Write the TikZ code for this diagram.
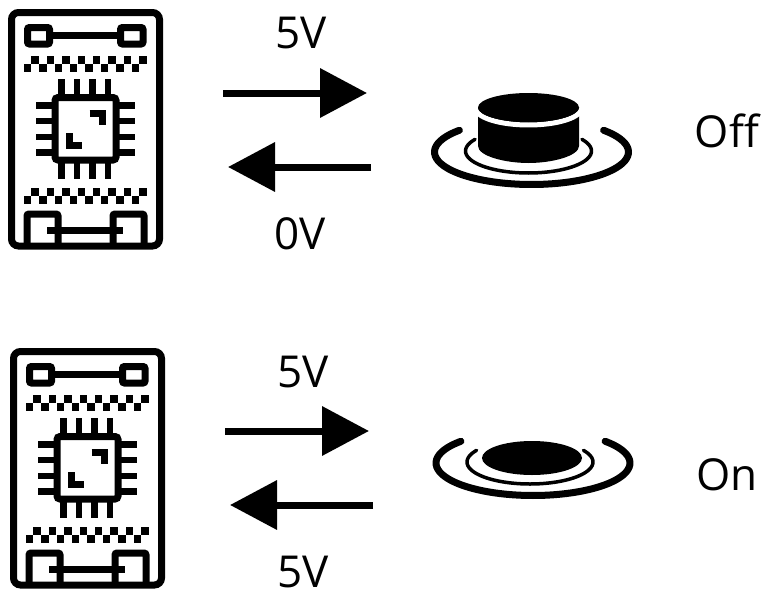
\documentclass[tikz,border=0pt]{standalone}
\usepackage{fontspec}
\setmainfont{Open Sans}
\usetikzlibrary{arrows.meta}
\tikzset{
  signal/.style={line width=7pt, -{Triangle[length=47pt,width=48pt]}},
  label/.style={font=\fontsize{44}{48}\selectfont, inner sep=0pt},
  trace/.style={line width=7pt},
  pin/.style={line width=6.8pt},
  pad/.style={fill=black},
  ringout/.style={line width=7pt, line cap=round},
  ringin/.style={line width=3.5pt, line cap=round}
}
\tikzset{
  board/.pic={
    % Outline
    \draw[trace, rounded corners=7pt] (11.5,12.5) rectangle (159.5,246);
    % Top connector
    \draw[trace, rounded corners=2pt] (27.5,27.5) rectangle (49.5,44);
    \draw[trace, rounded corners=2pt] (120.5,27.5) rectangle (143,44);
    \draw[trace] (50,35.5) -- (121,35.5);
    % Zigzag rows
    \foreach \i in {0,...,7} {
      \fill[pad] ({31.4+15.4*\i},55.5) rectangle ++(7.4,8);
      \fill[pad] ({23.7+15.4*\i},63.5) rectangle ++(7.4,8);
      \fill[pad] ({31.4+15.4*\i},187.5) rectangle ++(7.4,8);
      \fill[pad] ({23.7+15.4*\i},195.5) rectangle ++(7.4,8);
    }
    % Chip
    \draw[trace, rounded corners=3pt] (55,97.5) rectangle (116,160);
    \foreach \p in {61.5,77,92.5,108} {
      \draw[pin] (\p,79) -- (\p,95);
      \draw[pin] (\p,163) -- (\p,179);
    }
    \foreach \p in {105.5,121,137,152.5} {
      \draw[pin] (36,\p) -- (53,\p);
      \draw[pin] (118,\p) -- (135,\p);
    }
    \draw[trace] (89.5,113) -- (102,113) -- (102,125);
    \draw[trace] (69,133) -- (69,145) -- (81.5,145);
    % Bottom connector
    \draw[trace, rounded corners=2pt] (27,244) -- (27,214) -- (58,214) -- (58,244);
    \draw[trace, rounded corners=2pt] (113,244) -- (113,214) -- (144,214) -- (144,244);
    \draw[trace] (47,230) -- (123,230);
  },
  rings/.pic={
    \draw[ringout, domain=-42:222, samples=60, smooth] %
      plot ({97*cos(\x)}, {32.5*sin(\x)});
    \draw[ringin, domain=-32:212, samples=60, smooth] %
      plot ({-3*1+63*cos(\x)}, {-1+22*sin(\x)});
  }
}
\begin{document}
\begin{tikzpicture}[x=1pt, y=-1pt]
  \useasboundingbox (0,0) rectangle (761,592);

  % Off state
  \pic at (0,0) {board};
  \coordinate (outa) at (223,93);
  \coordinate (outb) at (367,93);
  \coordinate (backa) at (371,167);
  \coordinate (backb) at (228,167);
  \draw[signal] (outa) -- (outb);
  \draw[signal] (backa) -- (backb);
  \node[label] (sendoff) at (301,33.5) {5V};
  \node[label] (readoff) at (300,233.5) {0V};
  \pic at (531.5,152) {rings};
  % Button body
  \fill (478,107) -- (478,146) .. controls (478,156) and (505,163) .. (528.5,163) %
    .. controls (552,163) and (579,156) .. (579,146) -- (579,107) -- cycle;
  \draw[white, line width=5pt, domain=0:180, samples=40, smooth] %
    plot ({528.5+53*cos(\x)}, {108+17*sin(\x)});
  \fill (528.5,107.5) ellipse [x radius=50.5pt, y radius=14.5pt];
  \node[label] (stateoff) at (727,131) {Off};

  % On state
  \pic at (2,339) {board};
  \coordinate (ona) at (225,431);
  \coordinate (onb) at (369,431);
  \coordinate (retura) at (373,505);
  \coordinate (returb) at (230,505);
  \draw[signal] (ona) -- (onb);
  \draw[signal] (retura) -- (returb);
  \node[label] (sendon) at (303,372) {5V};
  \node[label] (readon) at (303,572) {5V};
  \pic at (533,463) {rings};
  \fill (532,458) ellipse [x radius=50pt, y radius=17pt];
  \node[label] (stateon) at (727,475) {On};
\end{tikzpicture}
\end{document}
